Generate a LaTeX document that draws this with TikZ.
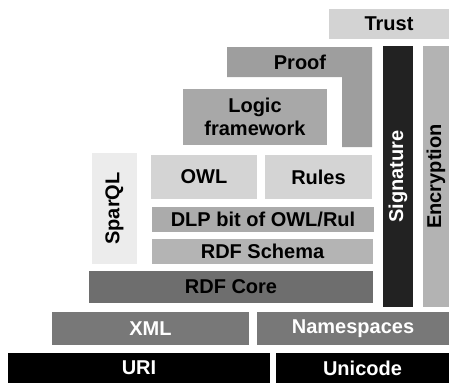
\documentclass[tikz,border=0pt]{standalone}
\usepackage{fontspec}
\setmainfont{Liberation Sans}
\begin{document}
\begin{tikzpicture}[x=1pt,y=-1pt,
  layer/.style={anchor=north west, inner sep=0pt, outer sep=0pt,
    font=\fontsize{20}{22.5}\selectfont\bfseries, align=center},
  vlayer/.style={layer, rotate=90, anchor=north east}]
\definecolor{cXml}{HTML}{787878}
\definecolor{cCore}{HTML}{6E6E6E}
\definecolor{cSchema}{HTML}{B4B4B4}
\definecolor{cDlp}{HTML}{ABABAB}
\definecolor{cOwl}{HTML}{D4D4D4}
\definecolor{cSparql}{HTML}{ECECEC}
\definecolor{cLogic}{HTML}{A8A8A8}
\definecolor{cProof}{HTML}{9E9E9E}
\definecolor{cTrust}{HTML}{D3D3D3}
\definecolor{cSig}{HTML}{222222}
\definecolor{cEnc}{HTML}{B3B3B3}
\useasboundingbox (0,0) rectangle (449,383);

% bottom layers
\node[layer, fill=black, text=white, minimum width=262, minimum height=30] (uri) at (8,353) {URI};
\node[layer, fill=black, text=white, minimum width=173, minimum height=30] (unicode) at (276,353) {Unicode};
\node[layer, fill=cXml, text=white, minimum width=197, minimum height=33] (xml) at (52,312) {XML};
\node[layer, fill=cXml, text=white, minimum width=192, minimum height=33] (ns) at (257,312) {Namespaces};

% RDF stack
\node[layer, fill=cCore, minimum width=284, minimum height=32] (core) at (89,271) {RDF Core};
\node[layer, fill=cSchema, minimum width=221, minimum height=25] (schema) at (152,239) {RDF Schema};
\node[layer, fill=cDlp, minimum width=222, minimum height=25] (dlp) at (152,207) {DLP bit of OWL/Rul};
\node[layer, fill=cOwl, minimum width=106, minimum height=44] (owl) at (151,155) {OWL};
\node[layer, fill=cOwl, minimum width=107, minimum height=44] (rules) at (265,155) {Rules};

% SparQL column
\node[vlayer, fill=cSparql, minimum width=111, minimum height=45] (sparql) at (92,153) {SparQL};

% logic and proof
\node[layer, fill=cLogic, minimum width=144, minimum height=56] (logic) at (183,89) {Logic\\framework};
\fill[cProof] (227,47) -- (372,47) -- (372,147) -- (342,147) -- (342,77) -- (227,77) -- cycle;
\node[font=\fontsize{20}{22.5}\selectfont\bfseries, inner sep=0pt] (proof) at (300,62) {Proof};

% trust
\node[layer, fill=cTrust, minimum width=120, minimum height=30] (trust) at (329,9) {Trust};

% signature and encryption columns
\node[vlayer, fill=cSig, text=white, minimum width=261, minimum height=30] (sig) at (383,46) {Signature};
\node[vlayer, fill=cEnc, minimum width=261, minimum height=26] (enc) at (423,46) {Encryption};
\end{tikzpicture}
\end{document}
